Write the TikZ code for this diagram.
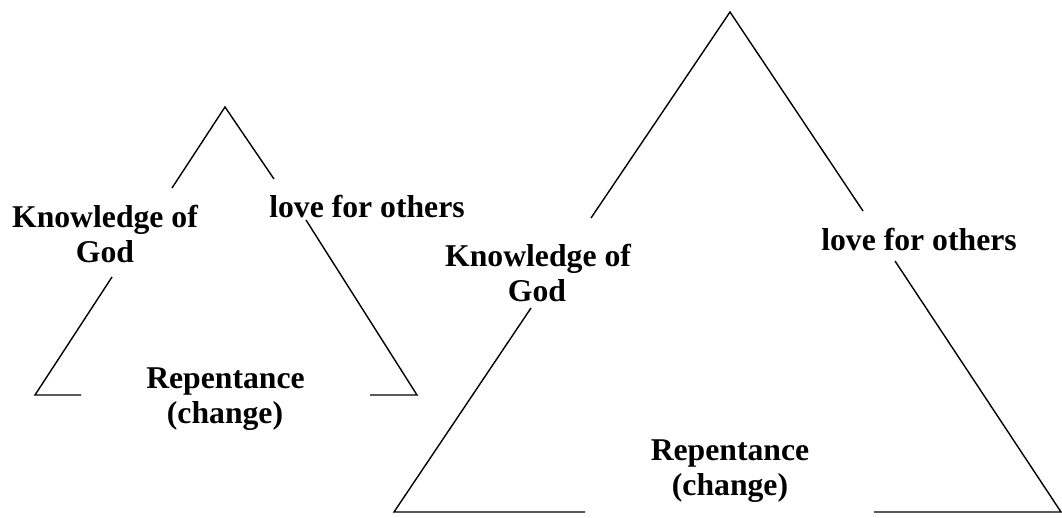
\documentclass[tikz,border=0pt]{standalone}
\usepackage{fontspec}
\setmainfont{Liberation Serif}
\begin{document}
\begin{tikzpicture}[x=1pt,y=-1pt,
  lbl/.style={anchor=base,inner sep=0pt,font=\bfseries\fontsize{31.7}{35}\selectfont},
  side/.style={line width=1.4pt,line cap=butt}]
\useasboundingbox (0,0) rectangle (1062,518);
% small triangle
\coordinate (sA) at (225,107);
\coordinate (sL1) at (172,188);
\coordinate (sL2) at (112,277);
\coordinate (sBL) at (35,395);
\coordinate (sB1) at (81,395);
\coordinate (sR1) at (274,179);
\coordinate (sR2) at (306,220);
\coordinate (sBR) at (417,395);
\coordinate (sB2) at (370,395);
\draw[side] (sL1) -- (sA) -- (sR1);
\draw[side] (sL2) -- (sBL) -- (sB1);
\draw[side] (sR2) -- (sBR) -- (sB2);
\node[lbl] (sK1) at (105,228) {Knowledge of};
\node[lbl] (sK2) at (105,263) {God};
\node[lbl] (sLo) at (367,218) {love for others};
\node[lbl] (sR1t) at (225.5,388) {Repentance};
\node[lbl] (sR2t) at (225,423) {(change)};
% large triangle
\coordinate (lA) at (730,12);
\coordinate (lL1) at (591,218);
\coordinate (lL2) at (531,308);
\coordinate (lBL) at (394,512);
\coordinate (lB1) at (585,512);
\coordinate (lR1) at (863,211);
\coordinate (lR2) at (895,261);
\coordinate (lBR) at (1061,512);
\coordinate (lB2) at (874,512);
\draw[side] (lL1) -- (lA) -- (lR1);
\draw[side] (lL2) -- (lBL) -- (lB1);
\draw[side] (lR2) -- (lBR) -- (lB2);
\node[lbl] (lK1) at (538,267) {Knowledge of};
\node[lbl] (lK2) at (537,302) {God};
\node[lbl] (lLo) at (919,251) {love for others};
\node[lbl] (lR1t) at (730,460) {Repentance};
\node[lbl] (lR2t) at (730,495) {(change)};
\end{tikzpicture}
\end{document}
